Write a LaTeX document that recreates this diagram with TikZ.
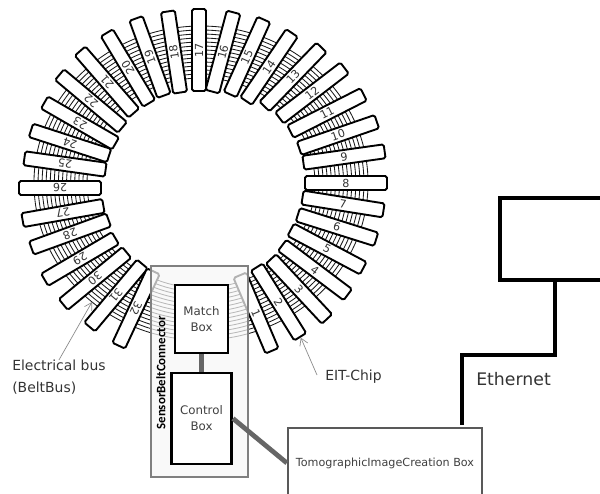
\documentclass[tikz,border=0pt]{standalone}
\usepackage{fontspec}
\setmainfont{DejaVu Sans}
\newfontfamily\beltfont{Carlito}
\usetikzlibrary{positioning,arrows.meta}
\tikzset{
  chip/.style={draw=black,fill=white,line width=1.35pt,rounded corners=1.2pt,rotate=#1,minimum width=2.05cm,minimum height=.35cm,inner sep=0pt,font=\fontsize{7.9}{8}\selectfont,text=black!80},
  box/.style={draw=black,fill=white,line width=1.9pt,inner sep=0pt,align=center,font=\fontsize{8.4}{11.5}\selectfont,text=black!75},
  note/.style={font=\fontsize{9.9}{15.6}\selectfont,text=black!80,inner sep=0pt,align=left},
  pointer/.style={draw=black!45,line width=.5pt,-{Straight Barb[length=5pt,width=6pt]}},
  cable/.style={draw=black!60,line width=3.4pt}
}
\begin{document}
\begin{tikzpicture}[x=.025cm,y=-.025cm]
\useasboundingbox (0,0) rectangle (600,494);
% bus lines under the chips
\foreach \i in {0,...,13}
  \draw[black!90,line width=.6pt] (201,183) ellipse ({114+4.08*\i} and {105+4*\i});
\foreach \n/\cx/\cy/\ang in {1/256/313/-67,2/278.5/302/-58,3/299/289/-47,4/315/270/-37,5/327/249/-28,6/337/227/-17.5,7/343/204/-9,8/346/183/0,
  9/344/157/8,10/338/135/19,11/327/113/27,12/312/93/37.5,13/293/77/46,14/269/67/56,15/247/57/65.7,16/223/52/75,
  17/199/50/90,18/174/52/98.6,19/150/57/110,20/128/68/121,21/107/82/131,22/91/101/140,23/80/123/150,24/70/143/162,
  25/65/164/172,26/60/188/180,27/63/213/190,28/70/234/200,29/80/259/210.5,30/95/278.5/219.4,31/116/295.5/230,32/136/308.5/245}
  \node[chip=\ang] (c\n) at (\cx,\cy) {\n};
% connector housing
\node[draw=black!50,fill=black!3,fill opacity=.72,line width=1.8pt,minimum width=2.425cm,minimum height=5.275cm,inner sep=0pt] (belt) at (199.5,371.5) {};
\node[rotate=90,font=\beltfont\bfseries\fontsize{9.2}{10}\selectfont,inner sep=0pt] (beltname) at (161,373) {SensorBeltConnector};
\node[box,minimum width=1.325cm,minimum height=1.7cm] (match) at (201.5,319) {Match\\Box};
\node[box,line width=2.1pt,minimum width=1.5cm,minimum height=2.275cm] (control) at (201.5,418.5) {Control\\Box};
\node[box,draw=black!65,line width=1.6pt,minimum width=4.85cm,minimum height=1.75cm,font=\fontsize{7.95}{9}\selectfont] (tomo) at (385,463) {TomographicImageCreation Box};
\node[box,line width=2.9pt,minimum width=2.75cm,minimum height=2.05cm] (server) at (555,239) {};
\draw[cable] (match.south)--(control.north);
\draw[cable] (control.east)--(tomo.west);
% ethernet line
\coordinate (ethfoot) at (462,425);
\draw[black,line width=2.9pt] (server.south)--++(0,73) -| (ethfoot);
\node[note,font=\fontsize{12.3}{14}\selectfont,anchor=west] (eth) at (476,379) {Ethernet};
\node[note,anchor=north west] (busnote) at (12,360) {Electrical bus\\(BeltBus)};
\node[note,anchor=west] (eit) at (325,377) {EIT-Chip};
\coordinate (busend) at (92,302);
\coordinate (eitfoot) at (317,375);
\draw[pointer] (busnote.north)--(busend);
\draw[pointer] (eitfoot)--(c2.east);
\end{tikzpicture}
\end{document}
